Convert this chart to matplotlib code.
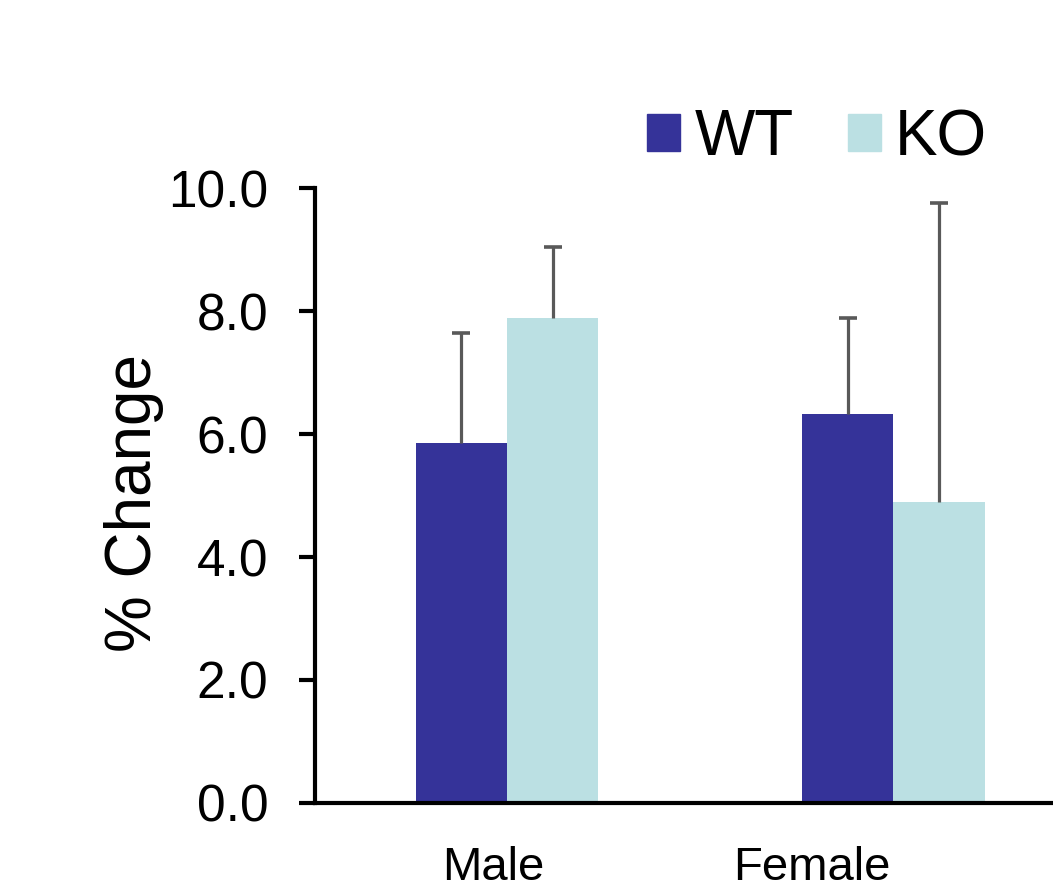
import numpy as np
import matplotlib.pyplot as plt
from matplotlib.patches import Patch

plt.rcParams['font.family'] = ['Liberation Sans', 'DejaVu Sans']

categories = ['Male', 'Female']
groups = ['WT', 'KO']
wt_vals = [5.85, 6.33]
wt_errs = [1.79, 1.55]
ko_vals = [7.89, 4.89]
ko_errs = [1.15, 4.87]
yticks = [0.0, 2.0, 4.0, 6.0, 8.0, 10.0]

wt_color = '#353399'
ko_color = '#bbe0e3'
err_color = '#595959'

fig = plt.figure(figsize=(10.53, 8.92), dpi=100)
ax = fig.add_axes([0.2991, 0.0998, 0.7009, 0.6894])

x = np.arange(len(categories))
w = 0.236
for vals, errs, col, off in [(wt_vals, wt_errs, wt_color, -w/2),
                             (ko_vals, ko_errs, ko_color, w/2)]:
    vals = np.array(vals)
    errs = np.array(errs)
    ax.bar(x + off, vals, width=w, color=col, zorder=2)
    ax.errorbar(x + off, vals, yerr=[np.zeros_like(errs), errs], fmt='none',
                ecolor=err_color, elinewidth=2.3, capsize=0, zorder=3)
    ax.plot(x + off, vals + errs, ls='none', marker='_', ms=12.5,
            mew=2.6, color=err_color, zorder=3)

ax.set_xlim(-0.497, 1.413)
ax.set_ylim(0, 10)
ax.set_yticks(yticks)
ax.set_yticklabels(['%.1f' % t for t in yticks])
# labels sit left of the group centres in the original
ax.set_xticks([-0.036, 0.79])
ax.set_xticklabels(categories)

for s in ['top', 'right']:
    ax.spines[s].set_visible(False)
for s in ['left', 'bottom']:
    ax.spines[s].set_linewidth(3)
ax.tick_params(axis='y', direction='out', length=11.5, width=3,
               labelsize=37, pad=22)
ax.tick_params(axis='x', length=0, labelsize=34, pad=31)

ax.set_ylabel('% Change', fontsize=46)
ax.yaxis.set_label_coords(-0.205, 0.488)

handles = [Patch(color=wt_color, label='WT'), Patch(color=ko_color, label='KO')]
fig.legend(handles=handles, loc='center left',
           bbox_to_anchor=(647/1053, 1 - 138/892), ncol=2, frameon=False,
           fontsize=46, handlelength=0.52, handleheight=0.52,
           handletextpad=0.22, columnspacing=0.85, borderpad=0,
           borderaxespad=0)

fig.savefig('out.png', dpi=100)
